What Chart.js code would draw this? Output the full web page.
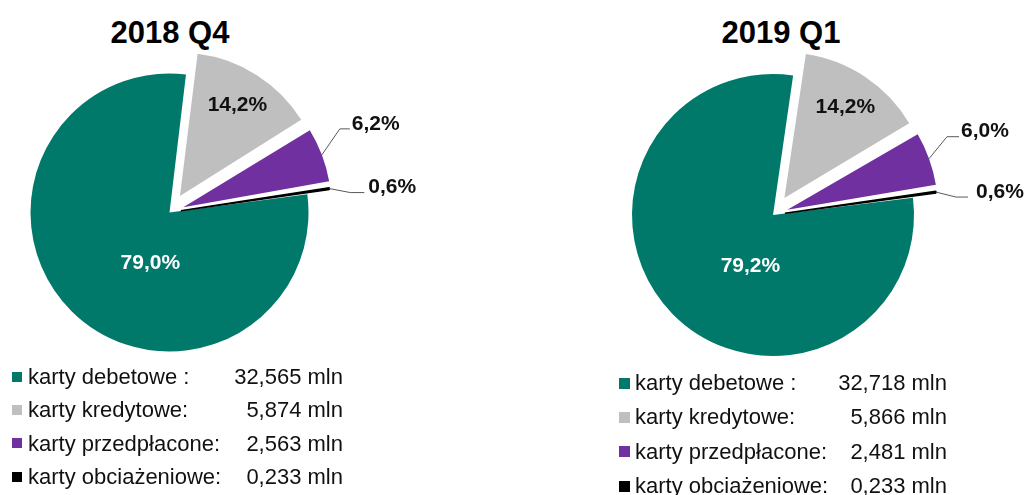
<!DOCTYPE html>
<html>
<head>
<meta charset="utf-8">
<script src="https://cdn.jsdelivr.net/npm/chart.js@4/dist/chart.umd.min.js"></script>
<style>
  body { margin: 0; background: #fff; width: 1029px; height: 495px; overflow: hidden; position: relative;
         font-family: 'Liberation Sans', Arial, sans-serif; }
  canvas { position: absolute; top: 0; }
  .title { position: absolute; top: 12px; width: 200px; text-align: center; font-weight: bold;
           font-size: 31px; line-height: 42px; color: #000; }
  .legend { position: absolute; font-size: 22px; color: #111; }
  .legend .row { position: absolute; left: 0; white-space: nowrap; }
  .legend .sq { position: absolute; }
  .legend .val { position: absolute; text-align: right; }
</style>
</head>
<body>
<div class="title" style="left:70px">2018 Q4</div>
<div class="title" style="left:681px">2019 Q1</div>
<canvas id="pieQ4" width="440" height="495" style="left:0px"></canvas>
<canvas id="pieQ1" width="469" height="495" style="left:560px"></canvas>
<div class="legend" id="legQ4"></div>
<div class="legend" id="legQ1"></div>
<script>
// categories and values (mln cards)
const categories = ['karty debetowe :', 'karty kredytowe:', 'karty przedpłacone:', 'karty obciażeniowe:'];
const valuesQ4 = [32.565, 5.874, 2.563, 0.233];
const valuesQ1 = [32.718, 5.866, 2.481, 0.233];
const colors = ['#00796B', '#BFBFBF', '#7030A0', '#000000'];

function pct(values, i) {
    const sum = values.reduce((a, b) => a + b, 0);
    return (values[i] / sum * 100).toFixed(1).replace('.', ',') + '%';
}

// draws the percent labels (inside or with a leader line)
const pieLabels = {
    id: 'pieLabels',
    afterDatasetsDraw(chart, args, opts) {
        const ctx = chart.ctx;
        const meta = chart.getDatasetMeta(0);
        const values = chart.data.datasets[0].data;
        meta.data.forEach((arc, i) => {
            const p = arc.getProps(['x', 'y', 'startAngle', 'endAngle', 'outerRadius', 'circumference'], true);
            const mid = (p.startAngle + p.endAngle) / 2;
            const off = arc.options.offset || 0;
            const shift = off / 4 * (2 - Math.sin(Math.min(Math.PI, p.circumference)));
            const cx = p.x + Math.cos(mid) * shift;
            const cy = p.y + Math.sin(mid) * shift;
            const place = opts.place[i];
            const text = pct(values, i);
            ctx.save();
            ctx.font = 'bold 21px "Liberation Sans", Arial, sans-serif';
            if (place.out) {
                const ex = cx + Math.cos(mid) * p.outerRadius;
                const ey = cy + Math.sin(mid) * p.outerRadius;
                const bx = ex + place.dx, by = ey + place.dy;
                ctx.strokeStyle = '#595959';
                ctx.lineWidth = 1;
                ctx.beginPath();
                ctx.moveTo(ex, ey);
                ctx.lineTo(bx, by);
                ctx.lineTo(bx + place.len, by);
                ctx.stroke();
                ctx.fillStyle = '#111';
                ctx.textAlign = 'left';
                ctx.textBaseline = 'middle';
                ctx.fillText(text, bx + place.len + place.gap, by - 5);
            } else {
                const a = mid + (place.da || 0) * Math.PI / 180;
                const r = p.outerRadius * place.r;
                ctx.fillStyle = place.color;
                ctx.textAlign = 'center';
                ctx.textBaseline = 'middle';
                ctx.fillText(text, cx + Math.cos(a) * r, cy + Math.sin(a) * r);
            }
            ctx.restore();
        });
    }
};

function makePie(id, values, rotation, radius, offsets, padding, place) {
    return new Chart(document.getElementById(id), {
        type: 'pie',
        data: {
            labels: categories,
            datasets: [{
                data: values,
                backgroundColor: colors,
                borderColor: colors,
                borderWidth: [0, 0, 0, 1.5],
                offset: offsets
            }]
        },
        options: {
            responsive: false,
            animation: false,
            rotation: rotation,
            radius: radius,
            layout: { padding: padding },
            plugins: {
                legend: { display: false },
                tooltip: { enabled: false },
                pieLabels: { place: place }
            }
        },
        plugins: [pieLabels]
    });
}

makePie('pieQ4', valuesQ4, 82.5, 139, [0, 78, 59, 46],
    { left: 0, right: 101, top: 0, bottom: 70 },
    [
        { r: 0.39, da: -24, color: '#fff' },
        { r: 0.74, da: 0, color: '#111' },
        { out: true, dx: 18, dy: -26, len: 10, gap: 2 },
        { out: true, dx: 21, dy: 4, len: 14, gap: 4 }
    ]);

makePie('pieQ1', valuesQ1, 83, 141, [0, 82, 61, 48],
    { left: 0, right: 43, top: 0, bottom: 65 },
    [
        { r: 0.40, da: -22, color: '#fff' },
        { r: 0.745, da: 0, color: '#111' },
        { out: true, dx: 18, dy: -22, len: 12, gap: 2 },
        { out: true, dx: 20, dy: 5, len: 12, gap: 8 }
    ]);

// html legends with values
function makeLegend(id, values, left, top, rowH, sq, textX, valRight) {
    const box = document.getElementById(id);
    box.style.left = left + 'px';
    box.style.top = top + 'px';
    categories.forEach((name, i) => {
        const row = document.createElement('div');
        row.className = 'row';
        row.style.top = (i * rowH) + 'px';
        row.style.height = rowH + 'px';
        row.style.lineHeight = rowH + 'px';
        row.style.width = valRight + 'px';
        const s = document.createElement('span');
        s.className = 'sq';
        s.style.background = colors[i];
        s.style.width = sq + 'px';
        s.style.height = sq + 'px';
        s.style.left = '0px';
        s.style.top = ((rowH - sq) / 2) + 'px';
        const t = document.createElement('span');
        t.style.position = 'absolute';
        t.style.left = textX + 'px';
        t.textContent = name;
        const v = document.createElement('span');
        v.className = 'val';
        v.style.right = '0px';
        v.textContent = values[i].toFixed(3).replace('.', ',') + ' mln';
        row.appendChild(s);
        row.appendChild(t);
        row.appendChild(v);
        box.appendChild(row);
    });
}

makeLegend('legQ4', valuesQ4, 12, 360, 33.3, 10, 16, 331);
makeLegend('legQ1', valuesQ1, 619, 366, 34.4, 11, 16, 328);
</script>
</body>
</html>
